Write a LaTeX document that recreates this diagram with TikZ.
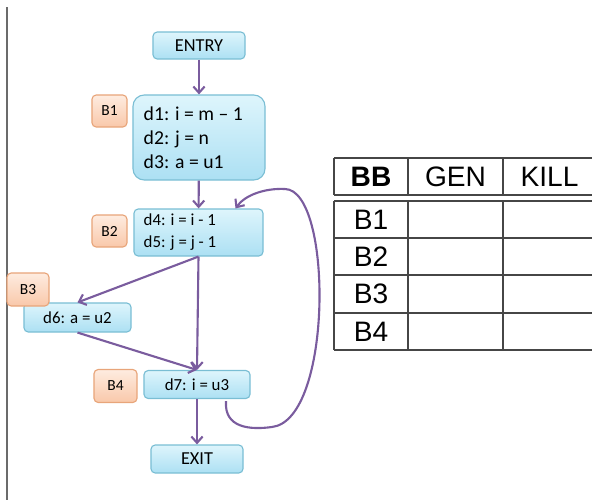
\documentclass[tikz,border=0pt]{standalone}
\usepackage{fontspec}
\setmainfont{Carlito}
\newfontfamily\tabfont{Liberation Sans}
\usepackage{tikz}
\usetikzlibrary{arrows.meta,calc}
\definecolor{boxline}{RGB}{122,190,212}
\definecolor{boxtop}{RGB}{222,245,252}
\definecolor{boxbot}{RGB}{172,224,243}
\definecolor{tagline}{RGB}{232,165,122}
\definecolor{tagtop}{RGB}{254,236,224}
\definecolor{tagbot}{RGB}{249,200,170}
\definecolor{flow}{RGB}{122,92,158}
\definecolor{rule}{RGB}{70,70,70}

\begin{document}
\begin{tikzpicture}[x=0.025cm, y=-0.025cm,
  block/.style={draw=boxline, thick, rounded corners=3pt, top color=boxtop, bottom color=boxbot, inner sep=2pt},
  tag/.style={draw=tagline, thick, rounded corners=3pt, top color=tagtop, bottom color=tagbot,
    minimum width=0.875cm, minimum height=0.8cm, font=\fontsize{11}{13}\selectfont},
  code/.style={anchor=west, align=left, inner sep=0pt},
  edge/.style={flow, line width=1.5pt, -{Straight Barb[length=4.5pt,width=8pt]}},
  cell/.style={font=\tabfont\fontsize{20}{24}\selectfont}]
  \useasboundingbox (0,0) rectangle (592,500);
  \draw[rule!80, line width=1pt] (7,7) -- (7,500);

  % blocks
  \node[block, minimum width=2.3cm, minimum height=0.675cm, font=\fontsize{13}{16}\selectfont] (entry) at (199,45.5) {ENTRY};
  \node[block, rounded corners=8pt, minimum width=3.3cm, minimum height=2.125cm] (b1) at (199,137.5) {};
  \node[code, font=\fontsize{14}{16.9}\selectfont] (t1) at ($(b1.west)+(11,0)$) {d1: i = m -- 1\\d2: j = n\\d3: a = u1};
  \node[tag] (lb1) at (109.5,111) {B1};
  \node[block, minimum width=3.225cm, minimum height=1.175cm] (b2) at (198.5,232.5) {};
  \node[code, font=\fontsize{12}{15.6}\selectfont] (t2) at ($(b2.west)+(10,0)$) {d4: i = i - 1\\d5: j = j - 1};
  \node[tag] (lb2) at (109.5,231) {B2};
  \node[block, minimum width=2.675cm, minimum height=0.725cm, font=\fontsize{12}{14}\selectfont] (b3) at (77.5,317.5) {d6: a = u2};
  \node[tag, minimum width=1.05cm, minimum height=0.825cm] (lb3) at (28,289.5) {B3};
  \node[block, minimum width=2.65cm, minimum height=0.7cm, font=\fontsize{12}{14}\selectfont] (b4) at (197,384.5) {d7: i = u3};
  \node[tag, minimum width=1.075cm, minimum height=0.825cm] (lb4) at (115.5,386) {B4};
  \node[block, minimum width=2.3cm, minimum height=0.7cm, font=\fontsize{13}{16}\selectfont] (exit) at (197,459) {EXIT};

  % flow
  \draw[edge] (entry) -- (b1);
  \draw[edge] (b1) -- (b2);
  \draw[edge] (b2.south) -- (b3.north);
  \draw[edge] (b2.south) -- (b4.north);
  \draw[edge] (b3.south) -- (b4.north);
  \draw[edge] (b4) -- (exit);
  \draw[edge] ($(b4.south)+(29,2)$) .. controls (224,428) and (250,430) .. (272,427)
    .. controls (333,420) and (333,190) .. (285,189)
    .. controls (265,188) and (245,195) .. ($(b2.north)+(37,0)$);

  % table
  \draw[rule, line width=1pt] (334,158) -- (592,158) (334,195) -- (592,195);
  \foreach \y in {201,238,275,313,350}
    \draw[rule, line width=1pt] (334,\y) -- (592,\y);
  \foreach \x in {334,408,503}
    \draw[rule, line width=1pt] (\x,158) -- (\x,195) (\x,201) -- (\x,350);
  \node[cell, font=\tabfont\bfseries\fontsize{20}{24}\selectfont] (hbb) at (371,176.5) {BB};
  \node[cell] (hgen) at (455.5,176.5) {GEN};
  \node[cell] (hkill) at (549.5,176.5) {KILL};
  \node[cell] (rb1) at (371,219.5) {B1};
  \node[cell] (rb2) at (371,256.5) {B2};
  \node[cell] (rb3) at (371,294) {B3};
  \node[cell] (rb4) at (371,331.5) {B4};
\end{tikzpicture}
\end{document}
